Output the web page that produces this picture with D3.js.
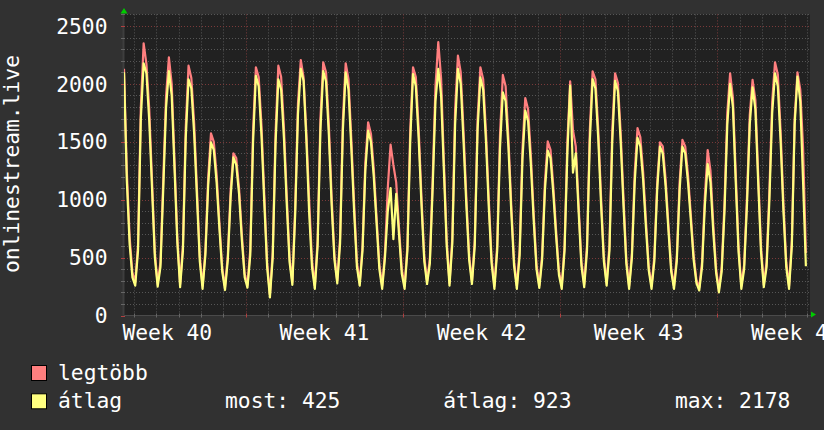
<!DOCTYPE html>
<html><head><meta charset="utf-8">
<script src="https://cdn.jsdelivr.net/npm/d3@7/dist/d3.min.js"></script>
<style>html,body{margin:0;padding:0;background:#313131;}svg{display:block}</style>
</head><body><svg id="c" width="824" height="430"></svg>
<script>
// ---- data (3-hour samples from chart start) ----
const stepHours = 3;
const avgVals = [
 2100,1165,617,330,258,560,1700,2178,
 2090,1680,1090,500,250,420,1100,1800,
 2110,1900,1270,630,245,560,1530,2040,
 1960,1570,1020,470,230,520,1120,1495,
 1430,1150,750,380,220,480,1020,1365,
 1300,1050,650,330,240,520,1500,2070,
 1980,1550,970,420,157,500,1480,2040,
 1950,1530,960,460,265,870,1740,2130,
 2027,1510,876,416,230,600,1600,2110,
 2020,1560,950,480,278,620,1600,2100,
 1950,1450,900,420,258,560,1250,1596,
 1500,1200,800,400,230,500,900,1100,
 660,1050,700,360,230,560,1500,2085,
 1980,1530,960,470,272,450,1100,1850,
 2130,1900,1250,600,258,620,1650,2130,
 2000,1500,950,480,272,600,1600,2056,
 1950,1500,930,450,230,560,1450,1927,
 1850,1450,900,430,230,520,1350,1769,
 1680,1300,820,400,238,480,1080,1424,
 1360,1050,680,350,230,560,1400,1985,
 1234,1400,900,430,245,560,1500,2042,
 1960,1530,960,470,258,560,1500,2027,
 1940,1500,950,450,230,500,1150,1533,
 1460,1170,760,390,230,470,1080,1458,
 1400,1120,740,380,230,470,1080,1458,
 1400,1150,820,480,280,216,420,950,
 1308,1150,720,370,200,380,900,1650,
 2000,1800,1150,550,230,400,950,1650,
 1970,1780,1150,550,245,420,1000,1750,
 2091,1980,1500,900,420,230,600,1650,
 2062,1850,1150,425
];
const maxVals = [
 2130,1250,680,370,285,610,1800,2350,
 2170,1780,1160,540,275,460,1180,1900,
 2230,2000,1340,680,270,610,1620,2157,
 2050,1660,1090,510,255,560,1190,1573,
 1500,1220,800,410,245,520,1080,1400,
 1360,1100,700,360,265,570,1600,2143,
 2060,1640,1040,460,180,550,1570,2157,
 2060,1620,1030,500,290,930,1830,2206,
 2056,1568,990,474,255,650,1700,2186,
 2100,1650,1020,520,300,670,1690,2178,
 2040,1530,970,460,280,600,1320,1668,
 1570,1270,850,440,255,540,1100,1475,
 1300,1150,760,400,255,600,1600,2143,
 2060,1620,1030,510,295,490,1180,1980,
 2360,2050,1330,650,280,670,1780,2244,
 2100,1590,1020,520,295,650,1690,2143,
 2040,1580,1000,490,255,610,1560,2077,
 1980,1530,960,470,255,570,1440,1878,
 1780,1380,880,440,260,520,1150,1504,
 1430,1110,730,380,255,600,1500,2022,
 1600,1460,960,470,270,610,1600,2108,
 2040,1610,1030,510,280,610,1600,2091,
 2010,1580,1020,490,255,540,1230,1619,
 1540,1240,820,420,255,510,1140,1496,
 1460,1180,790,410,255,510,1150,1516,
 1460,1210,870,520,305,240,460,1030,
 1429,1250,790,400,225,420,970,1750,
 2091,1880,1230,600,255,440,1020,1730,
 2034,1860,1220,600,270,460,1080,1850,
 2186,2080,1590,970,460,255,650,1700,
 2100,1950,1450,540
];
const yTicks = [0,500,1000,1500,2000,2500];
const weekLabels = ["Week 40","Week 41","Week 42","Week 43","Week 44"];
const seriesNames = ["legtöbb","átlag"];
const seriesColors = ["#ff7f7f","#ffff7f"];
const legendStats = [["most:","425"],["átlag:","923"],["max:","2178"]];
const yTitle = "onlinestream.live";

(function(){
// ---- layout ----
const pL = 124, pR = 810, pT = 14.4, pB = 315.5;
const spanHours = 733.4;          // hours shown across the plot
const firstMidnight = 10.3;       // hours after chart start
const firstWeekStart = 130.3;     // hours after chart start
const FONT = "'DejaVu Sans Mono', monospace";
const FS = 21.3;

const x = d3.scaleLinear().domain([0, spanHours]).range([pL, pR]);
const y = d3.scaleLinear().domain([0, 2600]).range([pB, pT]);

const svg = d3.select("#c");
svg.append("rect").attr("width",824).attr("height",430).attr("fill","#313131");
svg.append("rect").attr("x",pL).attr("y",pT).attr("width",pR-pL).attr("height",pB-pT).attr("fill","#212121");

const g = svg.append("g");
const hMinor = d3.range(0, 2601, 100).filter(v => v % 500 !== 0);
const days = d3.range(firstMidnight, spanHours, 24);
const weeks = d3.range(firstWeekStart, spanHours, 168);
const isWeek = d => weeks.some(w => Math.abs(w-d) < 1);
const px = v => Math.round(v) + 0.5;

g.selectAll(".hm").data(hMinor).join("line")
  .attr("x1",pL).attr("x2",pR).attr("y1",d=>px(y(d))).attr("y2",d=>px(y(d)))
  .attr("stroke","#565656").attr("stroke-dasharray","1,2");
g.selectAll(".vm").data(days.filter(d => !isWeek(d))).join("line")
  .attr("x1",d=>px(x(d))).attr("x2",d=>px(x(d))).attr("y1",pT).attr("y2",pB)
  .attr("stroke","#565656").attr("stroke-dasharray","1,2");
g.selectAll(".hM").data(yTicks.filter(v=>v>0)).join("line")
  .attr("x1",pL).attr("x2",pR).attr("y1",d=>px(y(d))).attr("y2",d=>px(y(d)))
  .attr("stroke","#7a3a3a").attr("stroke-dasharray","1,2");
g.selectAll(".vM").data(weeks).join("line")
  .attr("x1",d=>px(x(d))).attr("x2",d=>px(x(d))).attr("y1",pT).attr("y2",pB)
  .attr("stroke","#7a3a3a").attr("stroke-dasharray","1,2");

// axes lines + ticks
svg.append("line").attr("x1",pL).attr("x2",pR+2).attr("y1",pB).attr("y2",pB).attr("stroke","#4a4a4a");
svg.append("line").attr("x1",pL-0.5).attr("x2",pL-0.5).attr("y1",pB).attr("y2",pT-4).attr("stroke","#3e3e3e").attr("stroke-width",2);
svg.selectAll(".tk").data(days).join("line")
  .attr("x1",d=>px(x(d))).attr("x2",d=>px(x(d))).attr("y1",pB-2).attr("y2",pB+2)
  .attr("stroke",d=>isWeek(d)?"#b04040":"#666");
svg.selectAll(".ytk").data(hMinor.concat(yTicks)).join("line")
  .attr("x1",pL-3).attr("x2",pL+1).attr("y1",d=>px(y(d))).attr("y2",d=>px(y(d)))
  .attr("stroke",d=>d%500===0?"#b04040":"#666");

// series
svg.append("clipPath").attr("id","pc").append("rect")
  .attr("x",pL).attr("y",pT).attr("width",pR-pL).attr("height",pB-pT);
const line = d3.line().x((d,i)=>x(i*stepHours)).y(d=>y(d));
const lines = svg.append("g").attr("clip-path","url(#pc)");
[maxVals, avgVals].forEach((vals,k)=>{
  lines.append("path").attr("d",line(vals)).attr("fill","none")
    .attr("stroke",seriesColors[k]).attr("stroke-width",2.2).attr("stroke-linejoin","round");
});

// arrows
svg.append("path").attr("d",d3.line()([[pL-3.5,13.5],[pL+3.5,13.5],[pL,8]])).attr("fill","#00cc00");
svg.append("path").attr("d",d3.line()([[pR+1,311.5],[pR+1,317.5],[pR+6,314.5]])).attr("fill","#00cc00");

// y labels
svg.selectAll(".yl").data(yTicks).join("text")
  .attr("x",107.5).attr("y",d=>y(d)+7.7).attr("text-anchor","end")
  .attr("font-family",FONT).attr("font-size",FS).attr("fill","#ffffff").text(d=>d);
// x labels (centered mid-week)
svg.selectAll(".xl").data(weekLabels).join("text")
  .attr("x",(d,i)=>x(firstWeekStart - 84 + i*168)).attr("y",340).attr("text-anchor","middle")
  .attr("font-family",FONT).attr("font-size",FS).attr("fill","#ffffff").text(d=>d);
// y title
svg.append("text").attr("transform","translate(18.5,273) rotate(-90)")
  .attr("font-family",FONT).attr("font-size",FS).attr("fill","#ffffff").text(yTitle);

// legend
const leg = svg.append("g");
seriesNames.forEach((n,k)=>{
  leg.append("rect").attr("x",31.5).attr("y",365.5+k*28.3).attr("width",15).attr("height",15)
    .attr("fill",seriesColors[k]).attr("stroke","#000").attr("stroke-width",1);
  leg.append("text").attr("x",58).attr("y",380+k*28.3)
    .attr("font-family",FONT).attr("font-size",FS).attr("fill","#ffffff").text(n);
});
const statX = [225, 443.3, 675];
legendStats.forEach((s,k)=>{
  leg.append("text").attr("x",statX[k]).attr("y",408.3)
    .attr("font-family",FONT).attr("font-size",FS).attr("fill","#ffffff").text(s[0]+" "+s[1]);
});
})();
</script></body></html>
